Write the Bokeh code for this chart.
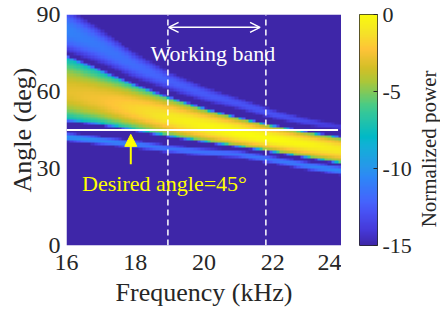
import numpy as np
from bokeh.plotting import figure
from bokeh.layouts import row
from bokeh.models import (Range1d, LinearColorMapper, Label, Arrow, OpenHead,
                          NormalHead, FixedTicker)
from bokeh.core.properties import value
from bokeh.embed import file_html
from bokeh.resources import INLINE

# ---------------- data ----------------
freq_knots = [16, 17, 18, 19, 20, 21, 22, 23, 24]                      # kHz
# main beam: centre angle (deg), peak (dB), upper / lower half-widths (deg)
main_angle = [59.7, 56.5, 52.9, 49.6, 46.5, 43.8, 41.4, 39.3, 37.3]
main_peak = [-3.0, -2.5, -1.6, -0.8, -0.3, 0.0, 0.0, -0.3, -0.9]
main_hw_up = [16.5, 13.5, 11.0, 9.2, 7.8, 6.9, 6.0, 5.7, 5.6]
main_hw_lo = [13.0, 11.0, 9.3, 8.1, 7.0, 6.1, 5.6, 5.7, 6.2]
# upper side lobe
upper_angle = [84.0, 77.5, 70.0, 64.0, 59.0, 55.3, 51.2, 48.2, 46.0]
upper_peak = [-10.8, -11.3, -11.8, -12.3, -12.5, -12.7, -12.8, -13.2, -14.0]
upper_hw = [12.0, 10.0, 8.0, 6.4, 5.2, 4.2, 3.5, 3.2, 3.2]
# lower side lobe
lower_angle = [42.3, 40.8, 39.3, 37.6, 36.3, 35.6, 33.3, 31.0, 29.1]
lower_peak = [-10.0, -10.5, -11.0, -11.5, -11.5, -11.5, -11.3, -11.0, -10.5]
lower_hw = [2.2, 2.3, 2.3, 2.3, 2.3, 2.3, 2.3, 2.3, 2.3]

freq_ticks = [16, 18, 20, 22, 24]
angle_ticks = [0, 30, 60, 90]
power_ticks = [-15, -10, -5, 0]
power_range = [-15, 0]

desired_angle = 45
desired_line_freq = [16, 23.9]
band_edges = [18.95, 21.8]
band_arrow_freq = [18.97, 21.63]
band_arrow_angle = 85
band_label = "Working band"
band_label_pos = [20.26, 75]
desired_arrow_freq = 17.87
desired_arrow_angle = [31.7, 43.3]
desired_label = "Desired angle=45°"
desired_label_pos = [18.85, 24]
cbar_label = "Normalized power"

# ---------------- heat map field ----------------
def lobe_db(delta, hw, peak):
    x = np.abs(delta) / hw
    rel = np.where(x <= 0.8, -7.5 * x ** 2, -7.5 * 0.8 ** 2 - 80.0 * (x - 0.8))
    return peak + rel

n_f, n_a = 80, 90
f_cent = 16 + (np.arange(n_f) + 0.5) * (8 / n_f)
a_cent = (np.arange(n_a) + 0.5) * (90 / n_a)
F, A = np.meshgrid(f_cent, a_cent)

def knot(v):
    return np.interp(f_cent, freq_knots, v)[None, :]

d = A - knot(main_angle)
hw_main = np.where(d >= 0, knot(main_hw_up), knot(main_hw_lo))
db_main = lobe_db(d, hw_main, knot(main_peak))
db_up = lobe_db(A - knot(upper_angle), knot(upper_hw), knot(upper_peak))
db_lo = lobe_db(A - knot(lower_angle), knot(lower_hw), knot(lower_peak))
db = np.clip(np.maximum(np.maximum(db_main, db_up), db_lo), power_range[0], power_range[1])

# ---------------- parula-like palette ----------------
anchors = [
    (0.000, (0.2422, 0.1504, 0.6603)),
    (0.062, (0.2717, 0.2184, 0.8439)),
    (0.145, (0.2810, 0.3228, 0.9579)),
    (0.190, (0.2691, 0.3916, 0.9912)),
    (0.294, (0.1786, 0.5289, 0.9682)),
    (0.337, (0.1540, 0.5902, 0.9218)),
    (0.435, (0.0689, 0.6948, 0.8394)),
    (0.470, (0.0009, 0.7248, 0.7815)),
    (0.580, (0.2161, 0.7843, 0.5923)),
    (0.610, (0.2929, 0.7975, 0.5170)),
    (0.710, (0.6720, 0.7793, 0.2227)),
    (0.770, (0.8281, 0.7481, 0.1536)),
    (0.850, (0.9970, 0.7659, 0.2199)),
    (0.925, (0.9608, 0.8902, 0.1532)),
    (1.000, (0.9763, 0.9831, 0.0538)),
]
ts = [a[0] for a in anchors]
palette = []
for t in np.linspace(0, 1, 256):
    rgb = [np.interp(t, ts, [a[1][k] for a in anchors]) for k in range(3)]
    palette.append("#%02x%02x%02x" % tuple(int(round(v * 255)) for v in rgb))

mapper = LinearColorMapper(palette=palette, low=power_range[0], high=power_range[1])

FONT = "Liberation Serif"
TXT = "#262626"
TOP, FH, BOT = 14, 231, 72

# ---------------- main figure ----------------
p = figure(frame_width=275, frame_height=FH,
           x_range=Range1d(16, 24), y_range=Range1d(0, 90),
           output_backend="svg", toolbar_location=None,
           min_border_left=66, min_border_right=0,
           min_border_top=TOP, min_border_bottom=BOT)
p.image(image=[db], x=16, y=0, dw=8, dh=90, color_mapper=mapper)
p.grid.visible = False
p.outline_line_color = None

p.xaxis.ticker = FixedTicker(ticks=freq_ticks)
p.yaxis.ticker = FixedTicker(ticks=angle_ticks)
p.xaxis.axis_label = "Frequency (kHz)"
p.yaxis.axis_label = "Angle (deg)"
for ax in [p.xaxis[0], p.yaxis[0]]:
    ax.axis_line_color = None
    ax.major_tick_line_color = None
    ax.minor_tick_line_color = None
    ax.major_tick_in = 0
    ax.major_tick_out = 0
    ax.minor_tick_in = 0
    ax.minor_tick_out = 0
    ax.major_label_text_font = FONT
    ax.major_label_text_font_size = "24px"
    ax.major_label_text_color = TXT
    ax.axis_label_text_font = FONT
    ax.axis_label_text_font_size = "26px"
    ax.axis_label_text_font_style = "normal"
    ax.axis_label_text_color = TXT
p.xaxis.major_label_standoff = 9
p.xaxis.axis_label_standoff = 5
p.yaxis.major_label_standoff = 6
p.yaxis.axis_label_standoff = -3

p.line(x=desired_line_freq, y=[desired_angle] * 2, line_color="white", line_width=2)
p.segment(x0=band_edges, x1=band_edges, y0=[0, 0], y1=[90, 90],
          line_color="white", line_width=1.5, line_dash="6 4")
p.add_layout(Arrow(x_start=band_arrow_freq[0], x_end=band_arrow_freq[1],
                   y_start=band_arrow_angle, y_end=band_arrow_angle,
                   start=OpenHead(size=10, line_color="white", line_width=1.5),
                   end=OpenHead(size=10, line_color="white", line_width=1.5),
                   line_color="white", line_width=1.5))
p.add_layout(Label(x=band_label_pos[0], y=band_label_pos[1], text=band_label,
                   text_align="center", text_baseline="alphabetic",
                   text_font=FONT, text_font_size="22px", text_color="white"))
p.add_layout(Arrow(x_start=desired_arrow_freq, x_end=desired_arrow_freq,
                   y_start=desired_arrow_angle[0], y_end=desired_arrow_angle[1],
                   end=NormalHead(size=12, fill_color="#ffff00", line_color="#ffff00"),
                   line_color="#ffff00", line_width=2))
p.add_layout(Label(x=desired_label_pos[0], y=desired_label_pos[1], text=desired_label,
                   text_align="center", text_baseline="alphabetic",
                   text_font=FONT, text_font_size="22px", text_color="#ffff00"))

# ---------------- colour bar figure ----------------
cb = figure(frame_width=18, frame_height=FH,
            x_range=Range1d(0, 1), y_range=Range1d(power_range[0], power_range[1]),
            y_axis_location="right",
            output_backend="svg", toolbar_location=None,
            min_border_left=18, min_border_right=34,
            min_border_top=TOP, min_border_bottom=BOT)
levels = np.linspace(power_range[0], power_range[1], 256).reshape(-1, 1)
cb.image(image=[levels], x=0, y=power_range[0], dw=1, dh=power_range[1] - power_range[0],
         color_mapper=mapper)
cb.xaxis.visible = False
cb.grid.visible = False
cb.outline_line_color = TXT
cb.outline_line_width = 1
cb.outline_line_alpha = 1
cax = cb.yaxis[0]
cax.ticker = FixedTicker(ticks=power_ticks)
cax.major_label_overrides = {t: str(t) for t in power_ticks}
cax.axis_line_color = None
cax.major_tick_in = 4
cax.major_tick_out = 0
cax.major_tick_line_color = TXT
cax.minor_tick_line_color = None
cax.minor_tick_in = 0
cax.minor_tick_out = 0
cax.major_label_standoff = 5
cax.major_label_text_font = FONT
cax.major_label_text_font_size = "22px"
cax.major_label_text_color = TXT

# ---------------- colour bar title figure ----------------
ct = figure(frame_width=28, frame_height=FH,
            x_range=Range1d(0, 28), y_range=Range1d(power_range[0], power_range[1]),
            output_backend="svg", toolbar_location=None,
            min_border_left=0, min_border_right=0,
            min_border_top=TOP, min_border_bottom=BOT)
ct.axis.visible = False
ct.grid.visible = False
ct.outline_line_color = None
ct.text(x=[14], y=[-8.73], text=[cbar_label], angle=np.pi / 2,
        text_align="center", text_baseline="middle",
        text_font=value(FONT), text_font_size="21px", text_color=TXT)

layout = row(p, cb, ct)
open("out.html", "w").write(file_html(layout, INLINE))
